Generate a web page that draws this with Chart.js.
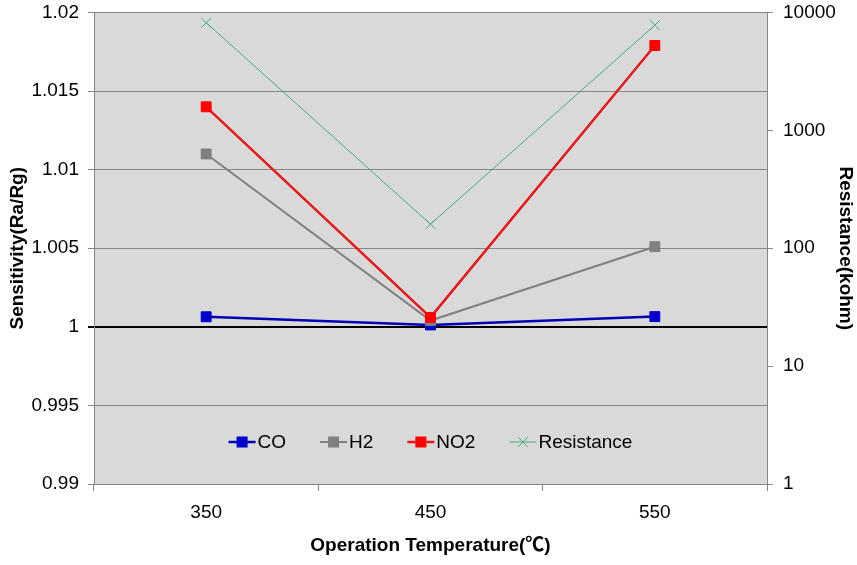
<!DOCTYPE html>
<html>
<head>
<meta charset="utf-8">
<script src="https://cdn.jsdelivr.net/npm/chart.js@4"></script>
<style>
  html, body { margin: 0; padding: 0; background: #fff; }
  canvas { display: block; }
</style>
</head>
<body>
<canvas id="myChart" width="857" height="565"></canvas>
<script>
// chart data
var temperatures = ['350', '450', '550'];
var coValues = [1.00064, 1.00012, 1.00065];
var h2Values = [1.0110, 1.0004, 1.0051];
var no2Values = [1.0140, 1.0006, 1.0179];
var resistanceValues = [8200, 160, 7800];
var sensitivityTicks = [0.99, 0.995, 1, 1.005, 1.01, 1.015, 1.02];
var resistanceTicks = [1, 10, 100, 1000, 10000];

var FONT = "'Liberation Sans', Arial, 'Noto Sans CJK SC', sans-serif";
var FS = 19;
var GRID = '#868686';

document.addEventListener('DOMContentLoaded', function() {
    const ctx = document.getElementById('myChart').getContext('2d');

    // gray plot background
    const plotBg = {
        id: 'plotBg',
        beforeDraw: function(chart) {
            const a = chart.chartArea;
            const c = chart.ctx;
            c.save();
            c.fillStyle = '#D9D9D9';
            c.fillRect(a.left, a.top, a.right - a.left, a.bottom - a.top);
            c.restore();
        }
    };

    // legend drawn inside the plot area, like the original
    const innerLegend = {
        id: 'innerLegend',
        afterDatasetsDraw: function(chart) {
            const a = chart.chartArea;
            const c = chart.ctx;
            const sample = 27, gapText = 2, gapItem = 34;
            c.save();
            c.font = FS + 'px ' + FONT;
            c.textBaseline = 'middle';
            const items = chart.data.datasets.map(function(ds) {
                return { ds: ds, w: sample + gapText + c.measureText(ds.label).width };
            });
            let total = 0;
            items.forEach(function(it, i) { total += it.w + (i ? gapItem : 0); });
            let x = (a.left + a.right) / 2 - total / 2;
            const y = a.bottom - 42;
            items.forEach(function(it) {
                const ds = it.ds;
                c.strokeStyle = ds.borderColor;
                c.lineWidth = ds.borderWidth;
                c.beginPath();
                c.moveTo(x, y);
                c.lineTo(x + sample, y);
                c.stroke();
                const cx = x + sample / 2;
                if (ds.pointStyle === 'rect') {
                    c.fillStyle = ds.pointBackgroundColor;
                    c.fillRect(cx - 5.5, y - 5.5, 11, 11);
                } else {
                    c.strokeStyle = ds.pointBorderColor;
                    c.lineWidth = 1;
                    c.beginPath();
                    c.moveTo(cx - 5, y - 5); c.lineTo(cx + 5, y + 5);
                    c.moveTo(cx - 5, y + 5); c.lineTo(cx + 5, y - 5);
                    c.stroke();
                }
                c.fillStyle = '#000';
                c.fillText(ds.label, x + sample + gapText, y + 1);
                x += it.w + gapItem;
            });
            c.restore();
        }
    };

    function sq(label, data, line, fill, width, order) {
        return {
            label: label,
            data: data,
            yAxisID: 'y',
            borderColor: line,
            borderWidth: width,
            pointStyle: 'rect',
            pointRadius: 7,
            pointBorderWidth: 1,
            pointBackgroundColor: fill,
            pointBorderColor: fill,
            tension: 0,
            order: order
        };
    }

    function noPad(s) {
        s.paddingTop = 0;
        s.paddingBottom = 0;
    }

    new Chart(ctx, {
        type: 'line',
        data: {
            labels: temperatures,
            datasets: [
                sq('CO', coValues, '#0000B4', '#0000CC', 2.5, 4),
                sq('H2', h2Values, '#808080', '#808080', 2, 3),
                sq('NO2', no2Values, '#E61818', '#FF0000', 2.5, 2),
                {
                    label: 'Resistance',
                    data: resistanceValues,
                    yAxisID: 'y2',
                    borderColor: '#45AD7C',
                    borderWidth: 1,
                    pointStyle: 'crossRot',
                    pointRadius: 7,
                    pointBorderWidth: 1,
                    pointBorderColor: '#45AD7C',
                    pointBackgroundColor: '#45AD7C',
                    tension: 0,
                    order: 1
                }
            ]
        },
        plugins: [plotBg, innerLegend],
        options: {
            responsive: false,
            animation: false,
            layout: { padding: { top: 12.5, left: 0, right: 0, bottom: 0 } },
            plugins: {
                legend: { display: false },
                tooltip: { enabled: false }
            },
            scales: {
                x: {
                    type: 'category',
                    offset: true,
                    grid: { offset: true, drawOnChartArea: false, tickLength: 7, color: GRID },
                    border: { color: GRID },
                    ticks: { color: '#000', font: { family: FONT, size: FS }, padding: 10 },
                    title: {
                        display: true,
                        text: 'Operation Temperature(℃)',
                        color: '#000',
                        font: { family: FONT, size: FS, weight: 'bold' },
                        padding: { bottom: 8 }
                    },
                    afterFit: function(s) { s.height = 81; s.paddingLeft = 0; s.paddingRight = 0; }
                },
                y: {
                    position: 'left',
                    min: 0.99,
                    max: 1.02,
                    afterBuildTicks: function(s) {
                        s.ticks = sensitivityTicks.map(function(v) { return { value: v }; });
                    },
                    ticks: {
                        color: '#000',
                        font: { family: FONT, size: FS },
                        padding: 9,
                        callback: function(v) { return String(Math.round(v * 1000) / 1000); }
                    },
                    grid: {
                        tickLength: 6,
                        color: function(c) { return Math.abs(c.tick.value - 1) < 1e-9 ? '#000' : GRID; },
                        lineWidth: function(c) { return Math.abs(c.tick.value - 1) < 1e-9 ? 2 : 1; }
                    },
                    border: { color: GRID },
                    title: {
                        display: true,
                        text: 'Sensitivity(Ra/Rg)',
                        color: '#000',
                        font: { family: FONT, size: FS, weight: 'bold' },
                        padding: { top: 6 }
                    },
                    afterFit: function(s) { s.width = 94; noPad(s); }
                },
                y2: {
                    type: 'logarithmic',
                    position: 'right',
                    min: 1,
                    max: 10000,
                    afterBuildTicks: function(s) {
                        s.ticks = resistanceTicks.map(function(v) { return { value: v }; });
                    },
                    ticks: {
                        color: '#000',
                        font: { family: FONT, size: FS },
                        padding: 10,
                        callback: function(v) { return String(v); }
                    },
                    grid: { drawOnChartArea: false, tickLength: 6, color: GRID },
                    border: { color: GRID },
                    title: {
                        display: true,
                        text: 'Resistance(kohm)',
                        color: '#000',
                        font: { family: FONT, size: FS, weight: 'bold' },
                        padding: { top: 0 }
                    },
                    afterFit: function(s) { s.width = 90; noPad(s); }
                }
            }
        }
    });
});
</script>
</body>
</html>
